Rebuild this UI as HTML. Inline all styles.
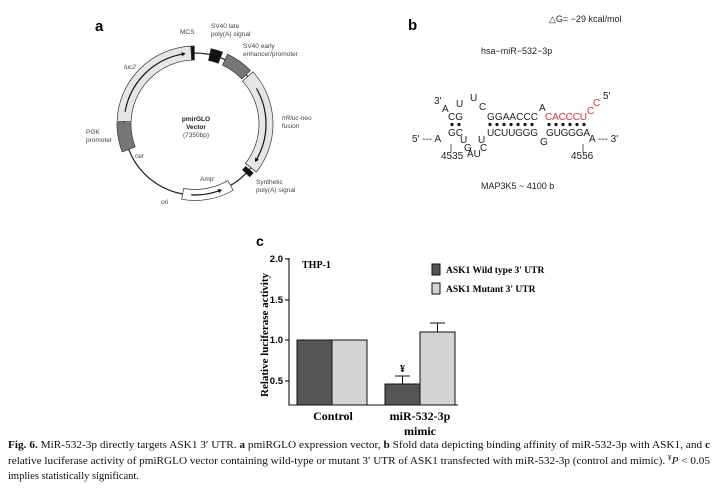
<!DOCTYPE html>
<html><head><meta charset="utf-8"><style>
html,body{margin:0;padding:0;background:#fff;}
svg{display:block;}
.s{font-family:"Liberation Sans",Arial,sans-serif;}
.r{font-family:"Liberation Serif","Times New Roman",serif;}
</style></head><body>
<svg id="sv" width="717" height="491" viewBox="0 0 717 491" xmlns="http://www.w3.org/2000/svg">
<rect width="717" height="491" fill="#fff"/>
<!-- panel a -->
<text x="95" y="31" class="s" font-size="15" font-weight="bold">a</text>
<circle cx="195" cy="124" r="71" fill="none" stroke="#222" stroke-width="1.2"/>
<g id="bands"></g>
<g class="s" font-size="6.5" fill="#444">
<text x="180" y="34">MCS</text>
<text x="211" y="28">SV40 late</text>
<text x="211" y="36">poly(A) signal</text>
<text x="243" y="48">SV40 early</text>
<text x="243" y="56">enhancer/promoter</text>
<text x="124" y="69" font-style="italic">luc2</text>
<text x="282" y="120"><tspan font-style="italic">hRluc</tspan>-neo</text>
<text x="282" y="128">fusion</text>
<text x="196" y="121" text-anchor="middle" font-weight="bold" fill="#222">pmirGLO</text>
<text x="196" y="129" text-anchor="middle" font-weight="bold" fill="#222">Vector</text>
<text x="196" y="137" text-anchor="middle">(7350bp)</text>
<text x="86" y="134">PGK</text>
<text x="86" y="142">promoter</text>
<text x="135" y="158">cer</text>
<text x="200" y="181">Amp<tspan font-size="4" dy="-2">r</tspan></text>
<text x="161" y="204">ori</text>
<text x="256" y="184">Synthetic</text>
<text x="256" y="192">poly(A) signal</text>
</g>
<!-- panel b -->
<text x="408" y="30" class="s" font-size="15" font-weight="bold">b</text>
<g class="s" font-size="10" fill="#222">
<text x="549" y="22" font-size="9">△G= −29 kcal/mol</text>
<text x="481" y="54" font-size="9">hsa−miR−532−3p</text>
<text x="434" y="104">3'</text>
<text x="442" y="112">A</text>
<text x="448" y="120">CG</text>
<text x="456" y="107">U</text>
<text x="470" y="101">U</text>
<text x="479" y="110">C</text>
<text x="487" y="120" textLength="51">GGAACCC</text>
<text x="539" y="111">A</text>
<text x="545" y="120" fill="#d0343c" textLength="42">CACCCU</text>
<text x="587" y="114" fill="#d0343c">C</text>
<text x="593" y="106" fill="#d0343c">C</text>
<text x="603" y="99">5'</text>
<text x="412" y="142">5' --- A</text>
<text x="448" y="136">GC</text>
<text x="460" y="143">U</text>
<text x="464" y="151">G</text>
<text x="478" y="143">U</text>
<text x="480" y="151">C</text>
<text x="487" y="136" textLength="51">UCUUGGG</text>
<text x="540" y="145">G</text>
<text x="546" y="136" textLength="44">GUGGGA</text>
<text x="589" y="142">A --- 3'</text>
<text x="441" y="159">4535</text>
<text x="467" y="157">AU</text>
<text x="571" y="159">4556</text>
<text x="481" y="189" font-size="9">MAP3K5 ~ 4100 b</text>
</g>
<g id="dots" fill="#111"></g>
<line x1="451" y1="144" x2="451" y2="152" stroke="#333" stroke-width="0.8"/>
<line x1="583" y1="144" x2="583" y2="152" stroke="#333" stroke-width="0.8"/>
<!-- panel c -->
<text x="256" y="246" class="s" font-size="14" font-weight="bold">c</text>
<text x="302" y="268" class="r" font-size="10" font-weight="bold">THP-1</text>
<g class="s" font-size="9.5" font-weight="bold" text-anchor="end">
<text x="283" y="262">2.0</text><text x="283" y="303">1.5</text>
<text x="283" y="343">1.0</text><text x="283" y="384">0.5</text>
</g>
<g stroke="#111" stroke-width="1.1">
<line x1="289" y1="258" x2="289" y2="405"/>
<line x1="288.5" y1="405" x2="458" y2="405"/>
<line x1="285" y1="259" x2="289" y2="259"/><line x1="285" y1="300" x2="289" y2="300"/>
<line x1="285" y1="340" x2="289" y2="340"/><line x1="285" y1="381" x2="289" y2="381"/>
</g>
<g stroke="#111" stroke-width="1">
<rect x="297" y="340" width="35" height="65" fill="#555"/>
<rect x="332" y="340" width="35" height="65" fill="#d3d3d3"/>
<rect x="385" y="384" width="35" height="21" fill="#555"/>
<rect x="420" y="332" width="35" height="73" fill="#d3d3d3"/>
<line x1="402.5" y1="384" x2="402.5" y2="376"/><line x1="395" y1="376" x2="410" y2="376"/>
<line x1="437.5" y1="332" x2="437.5" y2="323"/><line x1="430" y1="323" x2="445" y2="323"/>
<rect x="432" y="264" width="8" height="11" fill="#555"/>
<rect x="432" y="283" width="8" height="11" fill="#d3d3d3"/>
</g>
<text x="402.5" y="372" class="r" font-size="10" font-weight="bold" text-anchor="middle">¥</text>
<g class="r" font-size="9.5" font-weight="bold">
<text x="446" y="273">ASK1 Wild type 3' UTR</text>
<text x="446" y="292">ASK1 Mutant 3' UTR</text>
</g>
<text transform="translate(268,335) rotate(-90)" class="r" font-size="11" font-weight="bold" text-anchor="middle">Relative luciferase activity</text>
<g class="r" font-size="12" font-weight="bold" text-anchor="middle">
<text x="333" y="420">Control</text>
<text x="420" y="420">miR-532-3p</text>
<text x="420" y="435">mimic</text>
</g>
<!-- caption -->
<g class="r" font-size="10.5" fill="#111">
<text x="8" y="448" textLength="702" lengthAdjust="spacingAndGlyphs"><tspan font-weight="bold">Fig. 6.</tspan>  MiR-532-3p directly targets ASK1 3′ UTR. <tspan font-weight="bold">a</tspan> pmiRGLO expression vector, <tspan font-weight="bold">b</tspan> Sfold data depicting binding affinity of miR-532-3p with ASK1, and <tspan font-weight="bold">c</tspan></text>
<text x="8" y="464" textLength="702" lengthAdjust="spacingAndGlyphs">relative luciferase activity of pmiRGLO vector containing wild-type or mutant 3′ UTR of ASK1 transfected with miR-532-3p (control and mimic). <tspan font-size="7" dy="-4">¥</tspan><tspan dy="4" font-style="italic">P</tspan> &lt; 0.05</text>
<text x="8" y="479">implies statistically significant.</text>
</g>
</svg>
<script>
(function(){
var NS="http://www.w3.org/2000/svg",cx=195,cy=124,r=71;
function pt(a,rr){var t=a*Math.PI/180;return [cx+rr*Math.sin(t),cy-rr*Math.cos(t)];}
function band(a1,a2,fill,w){
  var ro=r+w/2,ri=r-w/2,p1=pt(a1,ro),p2=pt(a2,ro),p3=pt(a2,ri),p4=pt(a1,ri);
  var lg=(a2-a1)>180?1:0;
  var d="M"+p1+" A"+ro+" "+ro+" 0 "+lg+" 1 "+p2+" L"+p3+" A"+ri+" "+ri+" 0 "+lg+" 0 "+p4+"Z";
  var e=document.createElementNS(NS,"path");e.setAttribute("d",d);e.setAttribute("fill",fill);
  e.setAttribute("stroke","#333");e.setAttribute("stroke-width","0.7");
  document.getElementById("bands").appendChild(e);
}
function arrowArc(a1,a2,rr){
  var p1=pt(a1,rr),p2=pt(a2,rr),sw=a2>a1?1:0;
  var e=document.createElementNS(NS,"path");
  e.setAttribute("d","M"+p1+" A"+rr+" "+rr+" 0 0 "+sw+" "+p2);
  e.setAttribute("fill","none");e.setAttribute("stroke","#111");e.setAttribute("stroke-width","1.2");
  document.getElementById("bands").appendChild(e);
  var dir=a2>a1?1:-1,t=a2*Math.PI/180;
  var tx=Math.cos(t)*dir,ty=Math.sin(t)*dir;
  var nx=Math.sin(t),ny=-Math.cos(t);
  var a=document.createElementNS(NS,"path");
  var tip=[p2[0]+tx*3,p2[1]+ty*3];
  a.setAttribute("d","M"+tip+" L"+[p2[0]-tx*1+nx*2.2,p2[1]-ty*1+ny*2.2]+" L"+[p2[0]-tx*1-nx*2.2,p2[1]-ty*1-ny*2.2]+"Z");
  a.setAttribute("fill","#111");
  document.getElementById("bands").appendChild(a);
}
band(272,357,"#e6e6e6",14);
band(357,359.5,"#111",14);
band(12,21,"#111",12);
band(25,46,"#777",12);
band(48,128,"#e6e6e6",14);
band(130,134,"#111",10);
band(150,190,"#fff",11);
band(249,271,"#777",14);
arrowArc(280,350,71);
arrowArc(60,120,71);
arrowArc(183,160,71);
var g=document.getElementById("dots");
var xs=[452,459,490,497,504,511,518,525,532,549,556,563,570,577,584];
xs.forEach(function(x){var c=document.createElementNS(NS,"circle");c.setAttribute("cx",x);c.setAttribute("cy",124.5);c.setAttribute("r",1.6);g.appendChild(c);});
})();
</script>
</body></html>
